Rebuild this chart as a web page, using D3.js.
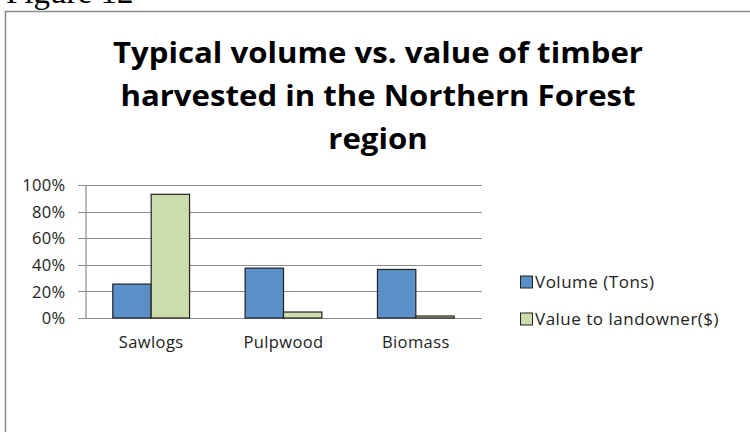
<!DOCTYPE html>
<html>
<head>
<meta charset="utf-8">
<script src="https://cdn.jsdelivr.net/npm/d3@7"></script>
<style>
  html, body { margin: 0; padding: 0; background: #fff; }
  svg { display: block; }
</style>
</head>
<body>
<div id="chart"></div>
<script>
// data
const categories = ["Sawlogs", "Pulpwood", "Biomass"];
const seriesNames = ["Volume (Tons)", "Value to landowner($)"];
const volume = [25.5, 37.5, 36.5];
const value = [93, 4.5, 1.5];
const yTicks = [0, 20, 40, 60, 80, 100];
const titleLines = ["Typical volume vs. value of timber", "harvested in the Northern Forest", "region"];

const W = 750, H = 432;
const colors = ["#5B8FC8", "#CDDCAB"];
const font = "'Open Sans', 'Noto Sans', sans-serif";

const svg = d3.select("#chart").append("svg")
  .attr("width", W).attr("height", H);

// figure caption, cut off at the top
svg.append("text")
  .attr("x", 6).attr("y", 3)
  .style("font-family", "'Liberation Serif', 'DejaVu Serif', serif")
  .style("font-size", "33px")
  .attr("fill", "#000")
  .text("Figure 12");

// chart frame
svg.append("rect")
  .attr("x", 5.5).attr("y", 11.5)
  .attr("width", W + 10).attr("height", H + 10)
  .attr("fill", "none").attr("stroke", "#8a8a8a").attr("stroke-width", 1.5);

// title
const title = svg.append("g").attr("font-family", font)
  .attr("font-weight", "bold").attr("font-size", 28.5).attr("fill", "#000");
const tl = title.selectAll("text").data(titleLines).join("text")
  .attr("x", 378).attr("y", (d, i) => 63 + i * 43)
  .attr("text-anchor", "middle")
  .text(d => d);
// squeeze to the narrower look of the original font
const natural = tl.nodes().map(n => n.getComputedTextLength());
const k = 530 / natural[0];
tl.attr("textLength", (d, i) => natural[i] * k).attr("lengthAdjust", "spacingAndGlyphs");

// scales
const x = d3.scaleBand().domain(categories).range([85, 482])
  .paddingInner(0.42).paddingOuter(0.21);
const xs = d3.scaleBand().domain(seriesNames).range([0, x.bandwidth()]);
const y = d3.scaleLinear().domain([0, 100]).range([318, 185]);

// gridlines
svg.append("g").selectAll("line").data(yTicks).join("line")
  .attr("x1", 78).attr("x2", 482)
  .attr("y1", d => Math.round(y(d)) + 0.5).attr("y2", d => Math.round(y(d)) + 0.5)
  .attr("stroke", "#8c8c8c").attr("stroke-width", 1.2);

// y axis
const yAxis = svg.append("g").attr("transform", "translate(85.5,0.5)")
  .call(d3.axisLeft(y).tickValues(yTicks).tickSize(0).tickPadding(20).tickFormat(d => d + "%"));
yAxis.select(".domain").attr("stroke", "#8c8c8c").attr("stroke-width", 1.2);
yAxis.selectAll("text").style("font-family", font).style("font-size", "16.5px")
  .attr("letter-spacing", "0.3px").attr("fill", "#222");

// x axis labels
const xAxis = svg.append("g").attr("transform", "translate(0,318)")
  .call(d3.axisBottom(x).tickSize(0).tickPadding(18));
xAxis.select(".domain").remove();
xAxis.selectAll("text").style("font-family", font).style("font-size", "16.5px")
  .attr("letter-spacing", "0.4px").attr("fill", "#222");

// bars
const rows = categories.map((c, i) => ({ cat: c, vals: [volume[i], value[i]] }));
svg.append("g").selectAll("g").data(rows).join("g")
  .attr("transform", d => `translate(${x(d.cat)},0)`)
  .selectAll("rect")
  .data(d => d.vals.map((v, j) => ({ key: seriesNames[j], v, j })))
  .join("rect")
    .attr("x", d => xs(d.key))
    .attr("y", d => y(d.v))
    .attr("width", xs.bandwidth())
    .attr("height", d => y(0) - y(d.v))
    .attr("fill", d => colors[d.j])
    .attr("stroke", "#222").attr("stroke-width", 1.2);

// legend
const leg = svg.append("g").selectAll("g").data(seriesNames).join("g")
  .attr("transform", (d, i) => `translate(520,${282 + i * 37})`);
leg.append("rect")
  .attr("x", 0.5).attr("y", -6).attr("width", 12).attr("height", 12)
  .attr("fill", (d, i) => colors[i]).attr("stroke", "#222").attr("stroke-width", 1);
leg.append("text")
  .attr("x", 15).attr("y", 0).attr("dy", "0.35em")
  .style("font-family", font).style("font-size", "17px")
  .attr("letter-spacing", "0.5px").attr("fill", "#222")
  .text(d => d);
</script>
</body>
</html>
